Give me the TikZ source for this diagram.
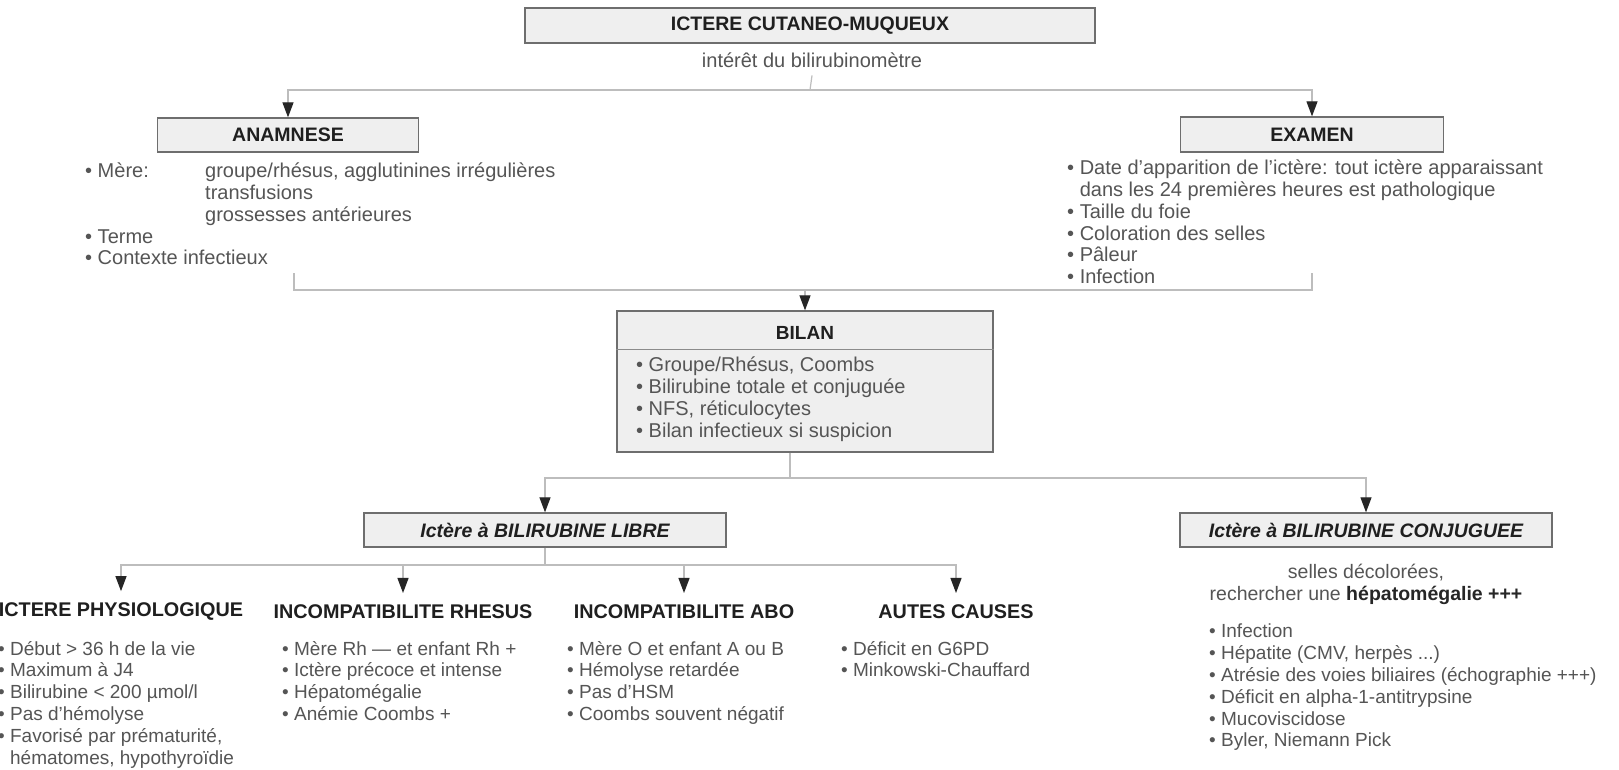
\documentclass[tikz,border=0pt]{standalone}
\usepackage{fontspec}
\setmainfont{Liberation Sans}
\usepackage{tikz}
\usetikzlibrary{arrows.meta}

\definecolor{cadre}{HTML}{6E6E6E}
\definecolor{fond}{HTML}{EFEFEF}
\definecolor{gristrait}{HTML}{BDBDBD}
\definecolor{texte}{HTML}{555555}

\newcommand{\puce}{\textbullet\ }
\newcommand{\suite}{\hphantom{\textbullet\ }}

\begin{document}
\begin{tikzpicture}[x=1pt,y=-1pt,
	boite/.style={draw=cadre,fill=fond,line width=1.3pt,inner sep=0pt,text=black!88,font=\fontsize{19.5}{22}\selectfont\bfseries},
	boitei/.style={boite,font=\fontsize{19.5}{22}\selectfont\bfseries\itshape},
	lien/.style={draw=gristrait,line width=1.2pt},
	fleche/.style={lien,-{Triangle[length=15pt,width=11pt,color=black!85]}},
	liste/.style={anchor=north west,align=left,inner sep=0pt,text=texte,font=\fontsize{20}{21.7}\selectfont},
	listeb/.style={liste,font=\fontsize{19}{21.8}\selectfont},
	titre/.style={inner sep=0pt,outer ysep=12pt,text=black!88,font=\fontsize{19.8}{22}\selectfont\bfseries}]
		\path[use as bounding box,fill=white] (0,0) rectangle (1619,770);
		% haut
		\node[boite,minimum width=570pt,minimum height=35pt] (ictere) at (810,25.5) {ICTERE CUTANEO-MUQUEUX};
		\node[inner sep=0pt,outer ysep=8pt,text=texte,font=\fontsize{20}{22}\selectfont] (interet) at (812,60) {intérêt du bilirubinomètre};
		\node[boite,minimum width=261pt,minimum height=34pt] (anam) at (288,135) {ANAMNESE};
		\node[boite,minimum width=263pt,minimum height=35pt] (exam) at (1312,134.5) {EXAMEN};
		\node[liste] (lanam) at (85,163) {\makebox[120pt][l]{\puce Mère:}groupe/rhésus, agglutinines irrégulières\\ \hspace*{120pt}transfusions\\ \hspace*{120pt}grossesses antérieures\\ \puce Terme\\ \puce Contexte infectieux};
		\node[liste] (lexam) at (1067,160) {\puce Date d'apparition de l'ictère: tout ictère apparaissant\\ \suite dans les 24 premières heures est pathologique\\ \puce Taille du foie\\ \puce Coloration des selles\\ \puce Pâleur\\ \puce Infection};
		\coordinate (h1) at (810,90);
		\draw[lien] (interet.south) -- (h1);
		\draw[fleche] (h1) -| (anam.north);
		\draw[fleche] (h1) -| (exam.north);
		% bilan
		\node[boite,minimum width=376pt,minimum height=141pt] (bilan) at (805,381.5) {};
		\node[inner sep=0pt,text=black!88,font=\fontsize{19}{22}\selectfont\bfseries] (tbilan) at (805,333) {BILAN};
		\draw[draw=cadre!80,line width=0.8pt] ([yshift=-39pt]bilan.north west) -- ([yshift=-39pt]bilan.north east);
		\node[liste] (lbilan) at (636,357) {\puce Groupe/Rhésus, Coombs\\ \puce Bilirubine totale et conjuguée\\ \puce NFS, réticulocytes\\ \puce Bilan infectieux si suspicion};
		\coordinate (ag) at (294,273);
		\coordinate (bg) at (294,290);
		\coordinate (ad) at (1312,273);
		\coordinate (bd) at (1312,290);
		\draw[lien] (ag) -- (bg) -- (bd) -- (ad);
		\draw[fleche] (bilan.north |- bg) -- (bilan.north);
		% bilirubine
		\node[boitei,minimum width=362pt,minimum height=34pt] (libre) at (545,530) {Ictère à BILIRUBINE LIBRE};
		\node[boitei,minimum width=372pt,minimum height=34pt] (conj) at (1366,530) {Ictère à BILIRUBINE CONJUGUEE};
		\coordinate (h2) at (790,478);
		\draw[lien] (bilan.south -| h2) -- (h2);
		\draw[fleche] (h2) -| (libre.north);
		\draw[fleche] (h2) -| (conj.north);
		% causes
		\node[titre] (physio) at (121,612) {ICTERE PHYSIOLOGIQUE};
		\node[titre] (rhesus) at (403,612) {INCOMPATIBILITE RHESUS};
		\node[titre] (abo) at (684,612) {INCOMPATIBILITE ABO};
		\node[titre] (autres) at (956,612) {AUTES CAUSES};
		\coordinate (h3) at (545,565);
		\draw[lien] (libre.south) -- (h3);
		\foreach \n in {physio,rhesus,abo,autres}
			\draw[fleche] (h3) -| (\n.north);
		\node[listeb] (lphysio) at (-2,641) {\puce Début > 36 h de la vie\\ \puce Maximum à J4\\ \puce Bilirubine < 200 µmol/l\\ \puce Pas d'hémolyse\\ \puce Favorisé par prématurité,\\ \suite hématomes, hypothyroïdie};
		\node[listeb] (lrhesus) at (282,641) {\puce Mère Rh — et enfant Rh +\\ \puce Ictère précoce et intense\\ \puce Hépatomégalie\\ \puce Anémie Coombs +};
		\node[listeb] (labo) at (567,641) {\puce Mère O et enfant A ou B\\ \puce Hémolyse retardée\\ \puce Pas d'HSM\\ \puce Coombs souvent négatif};
		\node[listeb] (lautres) at (841,641) {\puce Déficit en G6PD\\ \puce Minkowski-Chauffard};
		\node[align=center,inner sep=0pt,text=texte,font=\fontsize{19.5}{22}\selectfont] (selles) at (1366,584) {selles décolorées,\\ rechercher une \textbf{\color{black!85}hépatomégalie +++}};
		\node[listeb] (lconj) at (1209,624) {\puce Infection\\ \puce Hépatite (CMV, herpès ...)\\ \puce Atrésie des voies biliaires (échographie +++)\\ \puce Déficit en alpha-1-antitrypsine\\ \puce Mucoviscidose\\ \puce Byler, Niemann Pick};
	\end{tikzpicture}
\end{document}
